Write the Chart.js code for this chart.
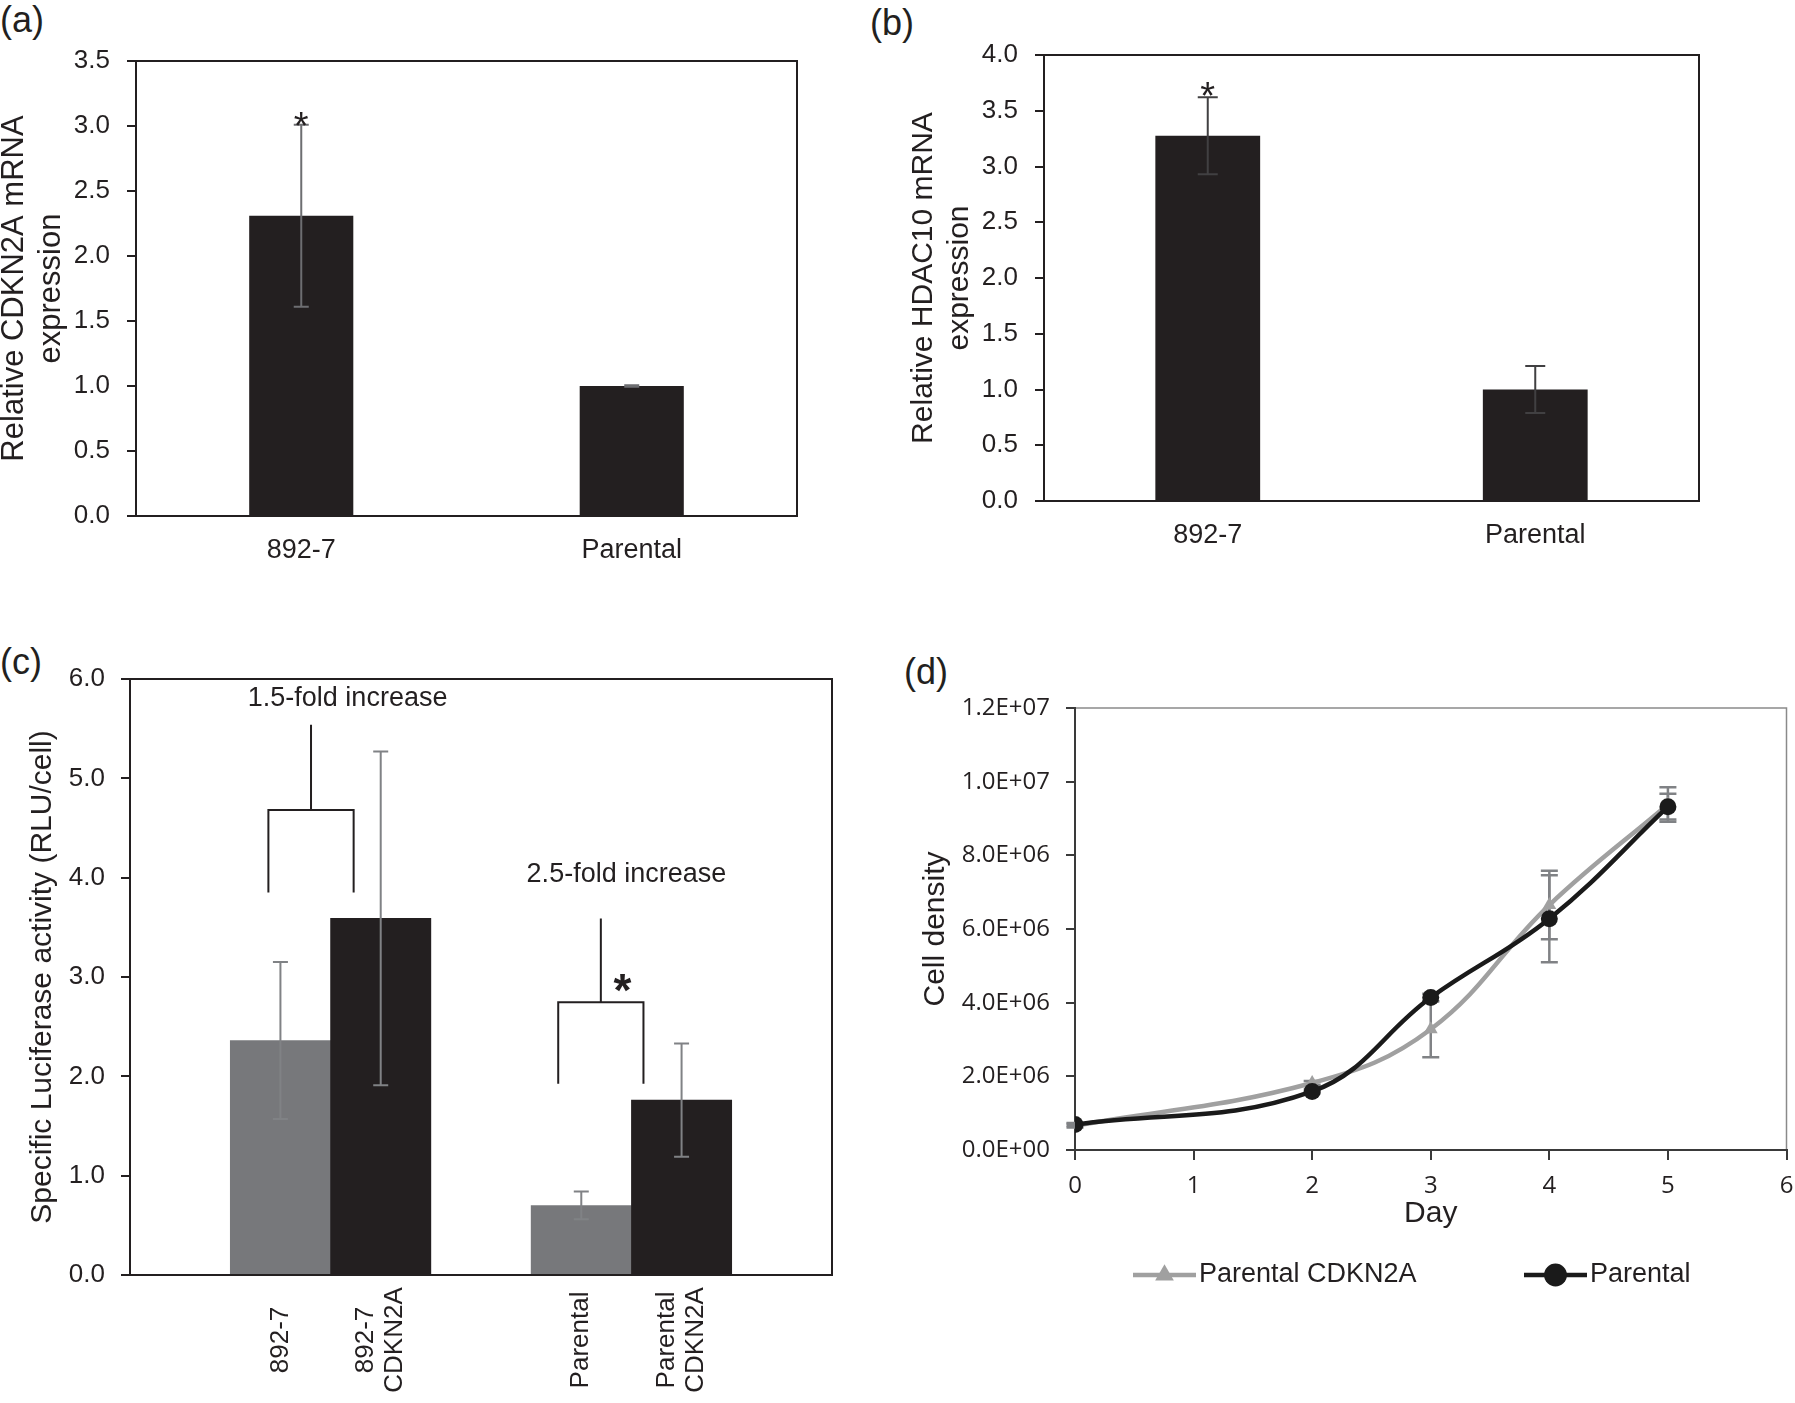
<!DOCTYPE html>
<html>
<head>
<meta charset="utf-8">
<title>CDKN2A / HDAC10 figure</title>
<script src="https://cdn.jsdelivr.net/npm/chart.js@4.4.1/dist/chart.umd.min.js"></script>
<style>
    body { margin: 0; background: #fff; width: 1795px; height: 1403px; position: relative; overflow: hidden;
           font-family: 'Liberation Sans', Arial, sans-serif; color: #231f20; }
    .panel { position: absolute; }
    .tag { position: absolute; font-size: 36px; line-height: 1; }
</style>
</head>
<body>
<div class="tag" style="left:0px; top:2px;">(a)</div>
<div class="tag" style="left:870px; top:5px;">(b)</div>
<div class="tag" style="left:0px; top:644px;">(c)</div>
<div class="tag" style="left:904px; top:654px;">(d)</div>

<div class="panel" style="left:-4px; top:0px; width:900px; height:620px;"><canvas id="chartA"></canvas></div>
<div class="panel" style="left:897px; top:0px; width:898px; height:620px;"><canvas id="chartB"></canvas></div>
<div class="panel" style="left:0px; top:640px; width:897px; height:763px;"><canvas id="chartC"></canvas></div>
<div class="panel" style="left:897px; top:640px; width:898px; height:763px;"><canvas id="chartD"></canvas></div>

<script>
/* ==========================================================================
   DATA
   ========================================================================== */
const expressionLabels = ['892-7', 'Parental'];

// (a) relative CDKN2A mRNA expression, mean and +/- error
const cdkn2aValues = [2.31, 1.0];
const cdkn2aErrors = [0.70, 0.005];

// (b) relative HDAC10 mRNA expression
const hdac10Values = [3.275, 1.0];
const hdac10Errors = [0.345, 0.21];

// (c) specific luciferase activity (RLU/cell)
const luciferaseLabels = ['892-7', ['892-7', 'CDKN2A'], 'Parental', ['Parental', 'CDKN2A']];
const luciferaseValues = [2.36, 3.59, 0.70, 1.76];
const luciferaseErrors = [0.79, 1.68, 0.14, 0.57];

// (d) growth curve
const growthDays = [0, 2, 3, 4, 5];
const parentalCdkn2aDensity = [0.66e6, 1.82e6, 3.28e6, 6.65e6, 9.38e6];
const parentalCdkn2aErrors  = [0.05e6, 0.05e6, 0.76e6, 0.93e6, 0.47e6];
const parentalDensity       = [0.69e6, 1.59e6, 4.14e6, 6.28e6, 9.32e6];
const parentalErrors        = [0.04e6, 0.05e6, 0.10e6, 1.18e6, 0.35e6];

const growthTicksMax = 1.2e7;

/* ==========================================================================
   SHARED STYLE
   ========================================================================== */
const INK = '#231f20';
const BAR_BLACK = '#231f20';
const BAR_GRAY = '#77787b';
const ARIAL = "'Liberation Sans', Arial, sans-serif";

Chart.defaults.font.family = ARIAL;
Chart.defaults.color = INK;
Chart.defaults.animation = false;
Chart.defaults.plugins.legend.display = false;
Chart.defaults.plugins.tooltip.enabled = false;

/* ==========================================================================
   PLUGINS
   ========================================================================== */
function drawErrorBars(chart) {
    const ctx = chart.ctx;
    const yScale = chart.scales.y;

    chart.data.datasets.forEach((ds, di) => {
        if (!ds.errors) return;
        const meta = chart.getDatasetMeta(di);
        const half = (ds.errorCap || 14) / 2;

        ctx.save();
        ctx.strokeStyle = ds.errorColor || '#6d6e71';
        ctx.lineWidth = ds.errorWidth || 2;

        meta.data.forEach((el, i) => {
            const parsed = meta.controller.getParsed(i);
            const err = ds.errors[i];
            if (!parsed || parsed.y == null || err == null || isNaN(el.x)) return;

            const x = el.x;
            const top = yScale.getPixelForValue(parsed.y + err);
            const bottom = yScale.getPixelForValue(parsed.y - err);

            ctx.beginPath();
            ctx.moveTo(x, top);
            ctx.lineTo(x, bottom);
            ctx.moveTo(x - half, top);
            ctx.lineTo(x + half, top);
            ctx.moveTo(x - half, bottom);
            ctx.lineTo(x + half, bottom);
            ctx.stroke();
        });
        ctx.restore();
    });
}

const errorBarsPlugin = {
    id: 'errorBars',
    beforeDatasetsDraw(chart, args, opts) {
        if (opts.layer === 'before') drawErrorBars(chart);
    },
    afterDatasetsDraw(chart, args, opts) {
        if (opts.layer !== 'before') drawErrorBars(chart);
    }
};

// box round the plot area
function strokeFrame(chart, opts) {
    if (!opts.color) return;
    const { left, top, right, bottom } = chart.chartArea;
    const ctx = chart.ctx;
    ctx.save();
    ctx.strokeStyle = opts.color;
    ctx.lineWidth = opts.width || 2;
    ctx.strokeRect(left, top, right - left, bottom - top);
    ctx.restore();
}

const framePlugin = {
    id: 'frame',
    beforeDraw(chart, args, opts) {
        if (opts.layer === 'back') strokeFrame(chart, opts);
    },
    afterDatasetsDraw(chart, args, opts) {
        if (opts.layer !== 'back') strokeFrame(chart, opts);
    }
};

// significance asterisks, brackets and notes, placed in data units
const marksPlugin = {
    id: 'marks',
    afterDatasetsDraw(chart, args, opts) {
        const ctx = chart.ctx;
        const xs = chart.scales.x;
        const ys = chart.scales.y;

        ctx.save();
        ctx.strokeStyle = INK;
        ctx.lineWidth = 2;
        (opts.brackets || []).forEach(b => {
            const x1 = xs.getPixelForValue(b.from);
            const x2 = xs.getPixelForValue(b.to);
            const xm = (x1 + x2) / 2;
            const yLeg = ys.getPixelForValue(b.legBottom);
            const yBar = ys.getPixelForValue(b.bar);
            const yStem = ys.getPixelForValue(b.stemTop);

            ctx.beginPath();
            ctx.moveTo(x1, yLeg);
            ctx.lineTo(x1, yBar);
            ctx.lineTo(x2, yBar);
            ctx.lineTo(x2, yLeg);
            ctx.moveTo(xm, yBar);
            ctx.lineTo(xm, yStem);
            ctx.stroke();
        });

        ctx.fillStyle = INK;
        ctx.textAlign = 'center';
        (opts.texts || []).forEach(t => {
            ctx.font = t.font;
            ctx.textBaseline = t.baseline || 'alphabetic';
            ctx.fillText(t.text, xs.getPixelForValue(t.x), ys.getPixelForValue(t.y));
        });
        ctx.restore();
    }
};

// vertical category labels, each line centred on a common middle line
const uprightLabelsPlugin = {
    id: 'uprightLabels',
    afterDraw(chart, args, opts) {
        if (!opts.offset) return;
        const ctx = chart.ctx;
        const xs = chart.scales.x;
        const y = chart.chartArea.bottom + opts.offset;

        ctx.save();
        ctx.fillStyle = INK;
        ctx.font = opts.font;
        ctx.textAlign = 'center';
        ctx.textBaseline = 'middle';
        chart.data.labels.forEach((label, i) => {
            const lines = Array.isArray(label) ? label : [label];
            if (!lines.join('')) return;
            ctx.save();
            ctx.translate(xs.getPixelForValue(i), y);
            ctx.rotate(-Math.PI / 2);
            lines.forEach((line, k) => {
                ctx.fillText(line, 0, (k - (lines.length - 1) / 2) * opts.lineHeight);
            });
            ctx.restore();
        });
        ctx.restore();
    }
};

// legend with a line sample and marker, as in the spreadsheet chart
const lineLegendPlugin = {
    id: 'lineLegend',
    afterDraw(chart, args, opts) {
        if (!opts.starts) return;
        const ctx = chart.ctx;
        const area = chart.chartArea;
        const y = area.bottom + opts.offsetY;
        const len = opts.lineLength;

        ctx.save();
        chart.data.datasets.forEach((ds, i) => {
            const x0 = area.left + opts.starts[i];

            ctx.strokeStyle = ds.borderColor;
            ctx.lineWidth = ds.borderWidth;
            ctx.beginPath();
            ctx.moveTo(x0, y);
            ctx.lineTo(x0 + len, y);
            ctx.stroke();

            ctx.fillStyle = ds.pointBackgroundColor;
            Chart.helpers.drawPoint(ctx, {
                pointStyle: ds.pointStyle,
                radius: ds.pointRadius * opts.markerScale,
                rotation: 0,
                borderWidth: 0
            }, x0 + len / 2, y);

            ctx.fillStyle = INK;
            ctx.font = opts.font;
            ctx.textAlign = 'left';
            ctx.textBaseline = 'middle';
            ctx.fillText(ds.label, x0 + len + 3, y);
        });
        ctx.restore();
    }
};

Chart.register(errorBarsPlugin, framePlugin, marksPlugin, uprightLabelsPlugin, lineLegendPlugin);

/* ==========================================================================
   HELPERS
   ========================================================================== */
function fixedWidth(w) {
    return scale => { scale.width = w; };
}

function fixedHeight(h) {
    return scale => {
        scale.height = h;
        scale.paddingLeft = 0;
        scale.paddingRight = 0;
    };
}

function sciLabel(v) {
    if (v === 0) return '0.0E+00';
    const exp = Math.floor(Math.log10(v) + 1e-9);
    const mant = v / Math.pow(10, exp);
    return mant.toFixed(1) + 'E+' + String(exp).padStart(2, '0');
}

function expressionChart(canvasId, values, errors, cfg) {
    return new Chart(document.getElementById(canvasId), {
        type: 'bar',
        data: {
            labels: expressionLabels,
            datasets: [{
                data: values,
                errors: errors,
                errorColor: cfg.errorColor,
                errorWidth: 2,
                errorCap: cfg.errorCap,
                backgroundColor: BAR_BLACK,
                borderWidth: 0,
                categoryPercentage: cfg.barShare,
                barPercentage: 1
            }]
        },
        options: {
            responsive: true,
            maintainAspectRatio: false,
            devicePixelRatio: 1,
            layout: { padding: cfg.padding },
            scales: {
                x: {
                    grid: { display: false },
                    border: { display: true, color: INK, width: 2 },
                    ticks: { font: { size: 27 }, padding: cfg.xPad, color: INK },
                    afterFit: fixedHeight(cfg.xHeight)
                },
                y: {
                    min: 0,
                    max: cfg.max,
                    ticks: { stepSize: 0.5, font: { size: 26 }, padding: 17, color: INK,
                             callback: v => v.toFixed(1) },
                    grid: { drawOnChartArea: false, drawTicks: true, tickLength: 9, color: INK, lineWidth: 2 },
                    border: { display: true, color: INK, width: 2 },
                    title: { display: true, text: cfg.title, color: INK,
                             font: { size: cfg.titleSize, lineHeight: 1.2 }, padding: { top: cfg.titlePad, bottom: 0 } },
                    afterFit: fixedWidth(cfg.yWidth)
                }
            },
            plugins: {
                frame: { color: INK, width: 2 },
                marks: { texts: [{ text: '*', x: 0, y: cfg.starY, font: '38px ' + ARIAL }] }
            }
        }
    });
}

/* ==========================================================================
   (a) and (b)
   ========================================================================== */
expressionChart('chartA', cdkn2aValues, cdkn2aErrors, {
    max: 3.5,
    title: ['Relative CDKN2A mRNA', 'expression'],
    titleSize: 31,
    padding: { left: 0, top: 61, right: 99, bottom: 0 },
    yWidth: 140, xHeight: 104,
    xPad: 10, titlePad: 0,
    barShare: 0.315, errorColor: '#6d6e71', errorCap: 15,
    starY: 2.90
});

expressionChart('chartB', hdac10Values, hdac10Errors, {
    max: 4.0,
    title: ['Relative HDAC10 mRNA', 'expression'],
    titleSize: 30,
    padding: { left: 0, top: 55, right: 96, bottom: 0 },
    yWidth: 147, xHeight: 119,
    xPad: 10, titlePad: 9,
    barShare: 0.32, errorColor: '#414042', errorCap: 20,
    starY: 3.52
});

/* ==========================================================================
   (c) luciferase bars: one empty slot before, between and after the pairs
   ========================================================================== */
const slotLabels = [''];
const slotValues = [null];
const slotErrors = [null];
const slotColors = [null];
luciferaseLabels.forEach((label, i) => {
    slotLabels.push(label);
    slotValues.push(luciferaseValues[i]);
    slotErrors.push(luciferaseErrors[i]);
    slotColors.push(i % 2 === 0 ? BAR_GRAY : BAR_BLACK);
    if (i % 2 === 1) {
        slotLabels.push('');
        slotValues.push(null);
        slotErrors.push(null);
        slotColors.push(null);
    }
});

new Chart(document.getElementById('chartC'), {
    type: 'bar',
    data: {
        labels: slotLabels,
        datasets: [{
            data: slotValues,
            errors: slotErrors,
            errorColor: '#808285',
            errorWidth: 2,
            errorCap: 15,
            backgroundColor: slotColors,
            borderWidth: 0,
            categoryPercentage: 1,
            barPercentage: 1
        }]
    },
    options: {
        responsive: true,
        maintainAspectRatio: false,
        devicePixelRatio: 1,
        layout: { padding: { left: 0, top: 39, right: 65, bottom: 0 } },
        scales: {
            x: {
                grid: { display: false },
                border: { display: true, color: INK, width: 2 },
                ticks: { display: false },
                afterFit: fixedHeight(128)
            },
            y: {
                min: 0,
                max: 6,
                ticks: { stepSize: 1, font: { size: 26 }, padding: 16, color: INK, callback: v => v.toFixed(1) },
                grid: { drawOnChartArea: false, drawTicks: true, tickLength: 9, color: INK, lineWidth: 2 },
                border: { display: true, color: INK, width: 2 },
                title: { display: true, text: 'Specific Luciferase activity (RLU/cell)', color: INK,
                         font: { size: 30, lineHeight: 1.2 }, padding: { top: 25, bottom: 0 } },
                afterFit: fixedWidth(130)
            }
        },
        plugins: {
            frame: { color: INK, width: 2 },
            uprightLabels: { offset: 65, lineHeight: 29, font: '26px ' + ARIAL },
            marks: {
                brackets: [
                    { from: 0.88, to: 1.73, legBottom: 3.85, bar: 4.68, stemTop: 5.54 },
                    { from: 3.77, to: 4.62, legBottom: 1.925, bar: 2.745, stemTop: 3.59 }
                ],
                texts: [
                    { text: '1.5-fold increase', x: 1.67, y: 5.8, baseline: 'middle', font: '27px ' + ARIAL },
                    { text: '2.5-fold increase', x: 4.45, y: 4.03, baseline: 'middle', font: '27px ' + ARIAL },
                    { text: '*', x: 4.41, y: 2.71, font: 'bold 46px ' + ARIAL }
                ]
            }
        }
    }
});

/* ==========================================================================
   (d) growth curves
   ========================================================================== */
const toPoints = values => growthDays.map((day, i) => ({ x: day, y: values[i] }));

new Chart(document.getElementById('chartD'), {
    type: 'line',
    data: {
        datasets: [
            {
                label: 'Parental CDKN2A',
                data: toPoints(parentalCdkn2aDensity),
                errors: parentalCdkn2aErrors,
                errorColor: '#808285',
                errorWidth: 2.5,
                errorCap: 17,
                borderColor: '#a0a0a0',
                borderWidth: 4.5,
                pointStyle: 'triangle',
                pointRadius: 8,
                pointBackgroundColor: '#a0a0a0',
                pointBorderWidth: 0,
                tension: 0.4,
                order: 1
            },
            {
                label: 'Parental',
                data: toPoints(parentalDensity),
                errors: parentalErrors,
                errorColor: '#808285',
                errorWidth: 2.5,
                errorCap: 17,
                borderColor: '#1a1a1a',
                borderWidth: 4.5,
                pointStyle: 'circle',
                pointRadius: 8.5,
                pointBackgroundColor: '#1a1a1a',
                pointBorderWidth: 0,
                tension: 0.4,
                order: 0
            }
        ]
    },
    options: {
        responsive: true,
        maintainAspectRatio: false,
        devicePixelRatio: 1,
        layout: { padding: { left: 0, top: 68, right: 6, bottom: 171 } },
        scales: {
            x: {
                type: 'linear',
                min: 0,
                max: 6,
                ticks: { stepSize: 1, font: { family: "'Open Sans', sans-serif", size: 24 }, padding: 12, color: INK },
                grid: { drawOnChartArea: false, drawTicks: true, tickLength: 10, color: '#3a3a3a', lineWidth: 2 },
                border: { display: true, color: '#3a3a3a', width: 2 },
                title: { display: true, text: 'Day', color: INK, font: { size: 30, lineHeight: 1.2 },
                         padding: { top: 0, bottom: 0 } },
                afterFit: fixedHeight(82)
            },
            y: {
                min: 0,
                max: growthTicksMax,
                ticks: { stepSize: 2e6, font: { family: "'Open Sans', sans-serif", size: 24 }, padding: 16, color: INK,
                         callback: v => sciLabel(v) },
                grid: { drawOnChartArea: false, drawTicks: true, tickLength: 9, color: '#3a3a3a', lineWidth: 2 },
                border: { display: true, color: '#3a3a3a', width: 2 },
                title: { display: true, text: 'Cell density', color: INK, font: { size: 30, lineHeight: 1.2 },
                         padding: { top: 21, bottom: 0 } },
                afterFit: fixedWidth(178)
            }
        },
        plugins: {
            errorBars: { layer: 'before' },
            frame: { color: '#8a8a8a', width: 1.5, layer: 'back' },
            lineLegend: { starts: [58, 449], lineLength: 63, offsetY: 125, markerScale: 1.35, font: '27px ' + ARIAL }
        }
    }
});
</script>
</body>
</html>
